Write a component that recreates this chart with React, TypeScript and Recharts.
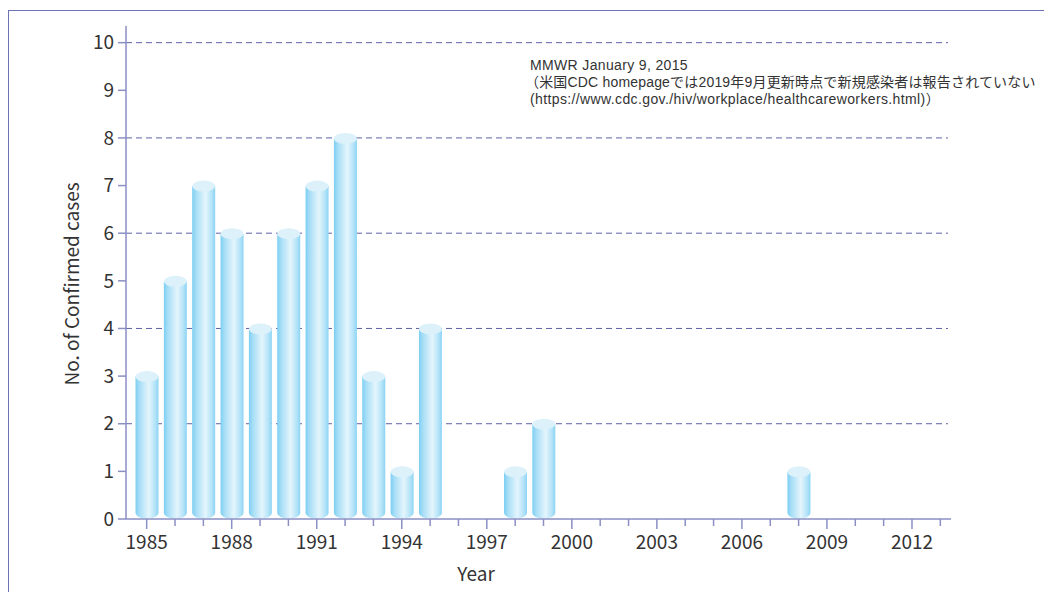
import React from 'react';
import { BarChart, Bar, XAxis, YAxis, CartesianGrid } from 'recharts';

// Confirmed occupational HIV infections among health care workers, by year
const years: string[] = [
  '1985', '1986', '1987', '1988', '1989', '1990', '1991', '1992', '1993', '1994',
  '1995', '1996', '1997', '1998', '1999', '2000', '2001', '2002', '2003', '2004',
  '2005', '2006', '2007', '2008', '2009', '2010', '2011', '2012', '2013',
];
const cases: number[] = [
  3, 5, 7, 6, 4, 6, 7, 8, 3, 1,
  4, 0, 0, 1, 2, 0, 0, 0, 0, 0,
  0, 0, 0, 1, 0, 0, 0, 0, 0,
];
const yTicks: number[] = [0, 1, 2, 3, 4, 5, 6, 7, 8, 9, 10];
const gridValues: number[] = [2, 4, 6, 8, 10];
const noteLines: string[] = [
  'MMWR January 9, 2015',
  '（米国CDC homepageでは2019年9月更新時点で新規感染者は報告されていない',
  '(https://www.cdc.gov./hiv/workplace/healthcareworkers.html)）',
];

const data = years.map((year, i) => ({ year, cases: cases[i] }));

const FONT = '"Noto Sans CJK JP", "Open Sans", sans-serif';
const NOTE_FONT = '"Liberation Sans", "Noto Sans CJK JP", sans-serif';
const TEXT = '#333333';
const AXIS = '#8a8fc4';
const GRID = '#5d62a6';
const FRAME = '#6d72b2';

const W = 1044;
const H = 584;

// Cylinder-shaped bar: shaded body, rounded bottom, light elliptical cap
const Cylinder = (props: any) => {
  const { x, y, width, height, index, value } = props;
  if (!value || height <= 0) return null;
  const rx = width / 2;
  const ry = 5.5;
  const cx = x + rx;
  const topY = y + 0.5;
  const botY = y + height - 6;
  const id = `cyl-${index}`;
  const body = `M${x},${topY} L${x},${botY} A${rx},${ry} 0 0 0 ${x + width},${botY} L${x + width},${topY} Z`;
  return (
    <g>
      <defs>
        <linearGradient id={id} x1="0" y1="0" x2="1" y2="0">
          <stop offset="0%" stopColor="#7ccff3" />
          <stop offset="18%" stopColor="#a8def6" />
          <stop offset="58%" stopColor="#e4f5fc" />
          <stop offset="85%" stopColor="#b4e3f8" />
          <stop offset="100%" stopColor="#8bd4f4" />
        </linearGradient>
      </defs>
      <path d={body} fill={`url(#${id})`} />
      <ellipse cx={cx} cy={topY} rx={rx} ry={ry} fill="#dcf1fa" />
    </g>
  );
};

const XTick = (props: any) => {
  const { x, y, payload } = props;
  const yr = Number(payload.value);
  const major = (yr - 1985) % 3 === 0;
  return (
    <g>
      <line x1={x} y1={y} x2={x} y2={y + (major ? 10 : 7)} stroke={AXIS} strokeWidth={1.5} />
      {major && (
        <text x={x} y={y + 30} textAnchor="middle" fill={TEXT} fontSize={19} fontFamily={FONT}>
          {payload.value}
        </text>
      )}
    </g>
  );
};

const GridLine = (props: any) => {
  const { x1, x2, y1, y2 } = props;
  return (
    <line x1={x1} x2={x2 - 3} y1={y1} y2={y2} stroke={GRID} strokeWidth={1} strokeDasharray="6 4" />
  );
};

const noteSpacing = [0.35, 0.18, 0.38];

export default function App() {
  return (
    <div style={{ position: 'relative', top: 2, width: W, height: H }}>
      <div
        style={{
          position: 'absolute', left: 0, top: 0, width: W + 10, height: H + 10,
          borderTop: `1.5px solid ${FRAME}`, borderLeft: `1.5px solid ${FRAME}`,
        }}
      />
      <BarChart
        width={W}
        height={H}
        data={data}
        margin={{ top: 16, right: 101, bottom: 45, left: 0 }}
        style={{ position: 'absolute', left: 0, top: 0 }}
      >
        <CartesianGrid
          vertical={false}
          horizontalValues={gridValues}
          horizontal={(p: any) => <GridLine key={p.key} {...p} />}
        />
        <XAxis
          dataKey="year"
          interval={0}
          height={30}
          padding={{ left: 6.5, right: -3.5 }}
          tickLine={false}
          tickSize={0}
          tickMargin={0}
          axisLine={{ stroke: AXIS, strokeWidth: 1.5 }}
          tick={<XTick />}
        />
        <YAxis
          width={118}
          domain={[0, 10.35]}
          ticks={yTicks}
          interval={0}
          tickSize={8}
          tickMargin={4}
          axisLine={{ stroke: AXIS, strokeWidth: 1.5 }}
          tickLine={{ stroke: AXIS, strokeWidth: 1.5 }}
          tick={{ fill: TEXT, fontSize: 19, fontFamily: FONT }}
        />
        <Bar dataKey="cases" barSize={23} shape={<Cylinder />} isAnimationActive={false} />
      </BarChart>
      <div
        style={{
          position: 'absolute', left: 62, top: 274, transform: 'translate(-50%, -50%) rotate(-90deg)',
          whiteSpace: 'nowrap', fontFamily: FONT, fontSize: 19, color: TEXT,
        }}
      >
        No. of Confirmed cases
      </div>
      <div
        style={{
          position: 'absolute', left: 468, top: 562, transform: 'translate(-50%, -50%)',
          whiteSpace: 'nowrap', fontFamily: FONT, fontSize: 19, color: TEXT,
        }}
      >
        Year
      </div>
      <div
        style={{
          position: 'absolute', left: 522, top: 47, whiteSpace: 'nowrap',
          fontFamily: NOTE_FONT, fontSize: 14, lineHeight: '17px', color: TEXT,
        }}
      >
        {noteLines.map((t, i) => (
          <div key={t} style={{ marginLeft: i === 1 ? -5 : 0, letterSpacing: noteSpacing[i] }}>{t}</div>
        ))}
      </div>
    </div>
  );
}
